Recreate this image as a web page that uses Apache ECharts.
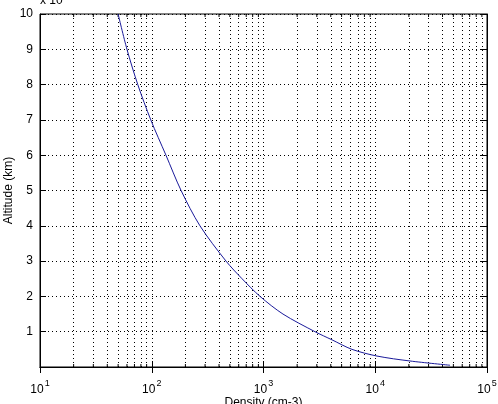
<!DOCTYPE html>
<html>
<head>
<meta charset="utf-8">
<script src="https://cdn.jsdelivr.net/npm/echarts@6/dist/echarts.min.js"></script>
<style>
  html, body { margin: 0; padding: 0; background: #fff; }
  #chart { width: 498px; height: 404px; }
</style>
</head>
<body>
<div id="chart"></div>
<script>
// values
const density = [50, 60, 75, 98, 134, 183, 270, 462, 643, 931, 1494, 2890, 4100, 6190, 10370, 20470, 46700];
const altitude = [10, 9, 8, 7, 6, 5, 4, 3, 2.5, 2, 1.5, 1, 0.77, 0.5, 0.31, 0.17, 0.05];
const yTicks = [1, 2, 3, 4, 5, 6, 7, 8, 9, 10];
const minorX = [20, 30, 40, 50, 60, 70, 80, 90,
                200, 300, 400, 500, 600, 700, 800, 900,
                2000, 3000, 4000, 5000, 6000, 7000, 8000, 9000,
                20000, 30000, 40000, 50000, 60000, 70000, 80000, 90000];

const font = 'Liberation Sans, Arial, sans-serif';
const dotted = { color: '#000', width: 1, type: [1, 3] };

let chart = echarts.init(document.getElementById('chart'));

let option = {
    animation: false,
    backgroundColor: '#fff',
    grid: {
        left: 40, right: 11, top: 14, bottom: 37,
        containLabel: false, outerBoundsMode: 'none',
        show: true, borderColor: '#000', borderWidth: 1
    },
    graphic: [{
        type: 'text', left: 40, top: -5,
        style: { text: 'x 10', font: '12px ' + font, fill: '#000' }
    }],
    xAxis: [{
        type: 'log', min: 10, max: 100000, logBase: 10,
        name: 'Density (cm-3)', nameLocation: 'middle', nameGap: 30, nameMoveOverlap: false,
        nameTextStyle: { color: '#000', fontSize: 12, fontFamily: font },
        axisLine: { show: true, lineStyle: { color: '#000' } },
        axisTick: { inside: true, length: 6, lineStyle: { color: '#000' } },
        axisLabel: {
            color: '#000', margin: 9,
            formatter: function (v) { return '{b|10}{s|' + Math.round(Math.log10(v)) + '}'; },
            rich: {
                b: { fontSize: 12, fontFamily: font, color: '#000', padding: [8, 0, 0, 0] },
                s: { fontSize: 9, fontFamily: font, color: '#000', padding: [0, 0, 4, 1] }
            }
        },
        splitLine: { show: true, lineStyle: dotted }
    }, {
        type: 'log', min: 10, max: 100000, logBase: 10, position: 'top',
        axisLine: { show: true, lineStyle: { color: '#000' } },
        axisTick: { inside: true, length: 6, lineStyle: { color: '#000' } },
        axisLabel: { show: false },
        splitLine: { show: false }
    }],
    yAxis: [{
        type: 'value', min: 0, max: 10, interval: 1,
        name: 'Altitude (km)', nameLocation: 'middle', nameGap: 25, nameMoveOverlap: false,
        nameTextStyle: { color: '#000', fontSize: 12, fontFamily: font },
        axisLine: { show: true, lineStyle: { color: '#000' } },
        axisTick: { inside: true, length: 6, lineStyle: { color: '#000' } },
        axisLabel: {
            color: '#000', fontSize: 12, fontFamily: font, margin: 7,
            formatter: function (v) { return yTicks.indexOf(v) >= 0 ? String(v) : ''; }
        },
        splitLine: { show: true, lineStyle: dotted }
    }, {
        type: 'value', min: 0, max: 10, interval: 1, position: 'right',
        axisLine: { show: true, lineStyle: { color: '#000' } },
        axisTick: { inside: true, length: 6, lineStyle: { color: '#000' } },
        axisLabel: { show: false },
        splitLine: { show: false }
    }],
    series: [{
        // minor ticks on the log axis, bottom and top
        type: 'custom',
        silent: true,
        data: minorX.map(function (v) { return [v]; }),
        renderItem: function (params, api) {
            let b = api.coord([api.value(0), 0]);
            let t = api.coord([api.value(0), 10]);
            let st = { stroke: '#000', lineWidth: 1 };
            return {
                type: 'group',
                children: [
                    { type: 'line', shape: { x1: b[0], y1: b[1], x2: b[0], y2: b[1] - 3 }, style: st },
                    { type: 'line', shape: { x1: t[0], y1: t[1], x2: t[0], y2: t[1] + 3 }, style: st }
                ]
            };
        },
        markLine: {
            silent: true,
            symbol: 'none',
            label: { show: false },
            lineStyle: dotted,
            data: minorX.map(function (v) { return { xAxis: v }; })
        }
    }, {
        type: 'line',
        data: density.map(function (d, i) { return [d, altitude[i]]; }),
        smooth: 0.3,
        showSymbol: false,
        lineStyle: { color: '#1a1a9a', width: 1 },
        z: 5
    }]
};

chart.setOption(option);
window.addEventListener('resize', function () {
    chart.resize();
});
</script>
</body>
</html>
